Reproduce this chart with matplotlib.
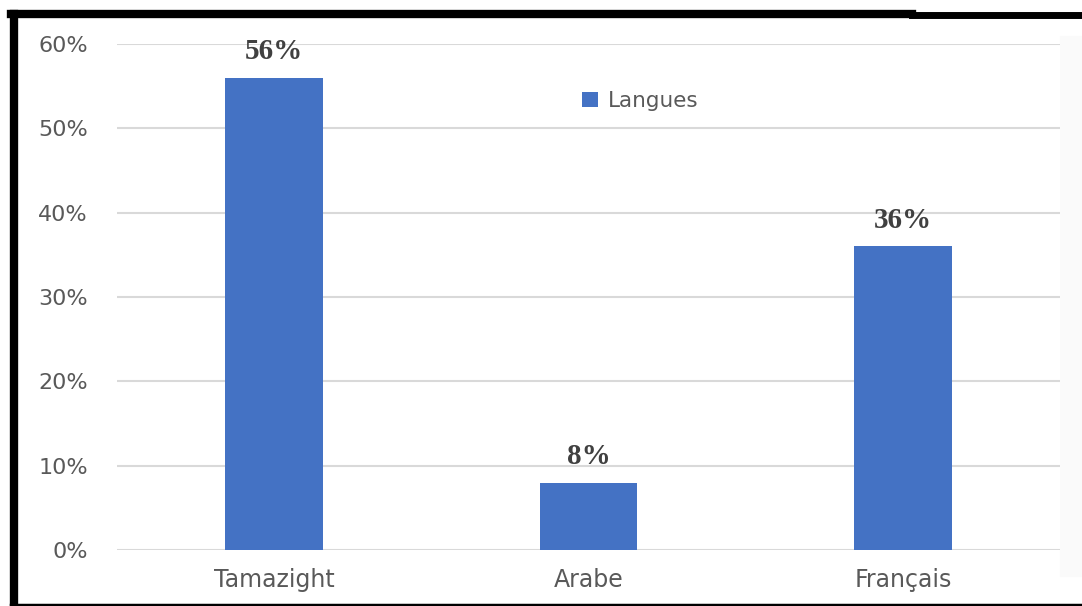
import matplotlib
matplotlib.use("Agg")
import matplotlib.pyplot as plt
from matplotlib.lines import Line2D
from matplotlib.patches import Rectangle

categories = ["Tamazight", "Arabe", "Français"]
shares = [56, 8, 36]
y_ticks = [0, 10, 20, 30, 40, 50, 60]
series_name = "Langues"

bar_color = "#4472C4"
text_grey = "#595959"
sans = "DejaVu Sans"

fig = plt.figure(figsize=(10.82, 6.06), dpi=100)

# faint shading to the right of the plot area
fig.add_artist(Rectangle((1060 / 1082, 30 / 606), 22 / 1082, 540 / 606,
                         transform=fig.transFigure, color="#fafafa", zorder=0))

ax = fig.add_axes([117 / 1082, 1 - 550 / 606, 943 / 1082, 506 / 606])

x = range(len(categories))
bars = ax.bar(x, shares, width=0.31, color=bar_color, label=series_name, zorder=3)

for rect, val in zip(bars, shares):
    ax.text(rect.get_x() + rect.get_width() / 2, val + 2.2, f"{val}%",
            ha="center", va="baseline", fontsize=21, fontweight="bold",
            family="Liberation Serif", color="#404040")

ax.set_xlim(-0.5, len(categories) - 0.5)
ax.set_ylim(0, 60)
ax.set_yticks(y_ticks)
ax.set_yticklabels([f"{t}%" for t in y_ticks])
ax.set_xticks(list(x))
ax.set_xticklabels(categories)
ax.tick_params(axis="both", length=0, labelcolor=text_grey)
ax.tick_params(axis="y", pad=21, labelsize=16)
ax.tick_params(axis="x", pad=13, labelsize=17)
for lbl in ax.get_xticklabels() + ax.get_yticklabels():
    lbl.set_family(sans)

ax.yaxis.grid(True, color="#d9d9d9", linewidth=1.5, zorder=0)
for side in ["top", "right", "left", "bottom"]:
    ax.spines[side].set_visible(False)

ax.legend(loc="upper center", bbox_to_anchor=(0.555, 0.945), frameon=False,
          prop={"family": sans, "size": 15.5}, labelcolor=text_grey,
          handlelength=0.75, handleheight=0.7, handletextpad=0.45)

# black frame drawn on the figure
fig.add_artist(Line2D([14 / 1082, 14 / 1082], [1 - 14 / 606, 0], color="black",
                      linewidth=6, transform=fig.transFigure))
fig.add_artist(Line2D([11 / 1082, 912 / 1082], [1 - 14 / 606, 1 - 14 / 606], color="black",
                      linewidth=6, transform=fig.transFigure))
fig.add_artist(Line2D([912 / 1082, 1], [1 - 14.5 / 606, 1 - 14.5 / 606], color="black",
                      linewidth=5, transform=fig.transFigure))
fig.add_artist(Line2D([11 / 1082, 1], [1.5 / 606, 1.5 / 606], color="black",
                      linewidth=2.5, transform=fig.transFigure))

fig.savefig("out.png", dpi=100, facecolor="white")
